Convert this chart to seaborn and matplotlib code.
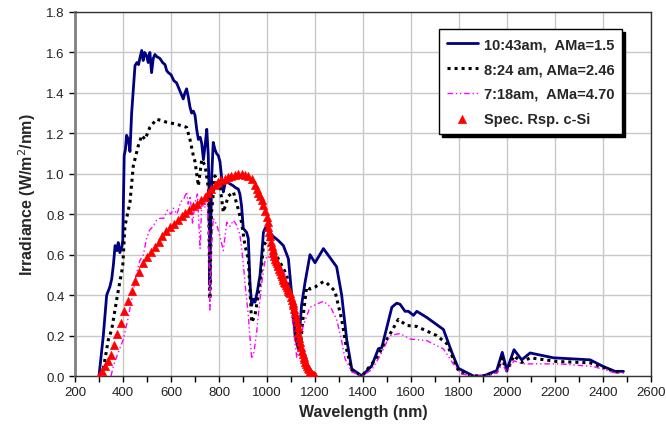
import matplotlib
matplotlib.use("Agg")
import matplotlib.pyplot as plt
from matplotlib.ticker import MultipleLocator, FormatStrFormatter
import seaborn as sns

# 10:43am, AMa=1.5
wl_noon = [300, 318, 332, 345, 353, 360, 367, 375, 380, 387, 395, 399, 405, 410, 415, 422, 429, 436,
           443, 450, 458, 465, 470, 478, 484, 490, 498, 505, 512, 519, 526, 533, 540, 554, 565, 575,
           582, 589, 600, 612, 623, 630, 637, 644, 651, 658, 665, 672, 679, 686, 693, 700, 707, 714,
           722, 728, 735, 742, 749, 755, 758, 762, 765, 770, 776, 783, 790, 797, 804, 811, 818, 825,
           832, 846, 860, 870, 880, 887, 894, 901, 908, 915, 922, 929, 936, 943, 950, 960, 971, 978,
           985, 992, 999, 1012, 1026, 1047, 1068, 1089, 1103, 1117, 1130, 1144, 1158, 1179, 1200,
           1235, 1290, 1311, 1332, 1353, 1395, 1436, 1464, 1478, 1520, 1540, 1554, 1575, 1589, 1610,
           1624, 1665, 1735, 1770, 1797, 1860, 1901, 1957, 1980, 1999, 2029, 2061, 2096, 2193, 2346,
           2401, 2450, 2485]
irr_noon = [0.0, 0.2, 0.40, 0.44, 0.48, 0.55, 0.645, 0.62, 0.66, 0.61, 0.64, 0.67, 1.09, 1.12, 1.19,
            1.17, 1.11, 1.30, 1.42, 1.535, 1.55, 1.54, 1.57, 1.61, 1.56, 1.60, 1.585, 1.55, 1.60, 1.50,
            1.57, 1.59, 1.58, 1.57, 1.55, 1.54, 1.51, 1.50, 1.49, 1.46, 1.45, 1.43, 1.41, 1.39, 1.37,
            1.40, 1.42, 1.38, 1.33, 1.30, 1.31, 1.29, 1.22, 1.17, 1.18, 1.15, 1.07, 1.14, 1.22, 1.10,
            0.95, 0.45, 0.72, 1.0, 1.155, 1.12, 1.10, 1.09, 1.06, 0.98, 0.91, 0.95, 0.96, 0.95, 0.94,
            0.93, 0.925, 0.90, 0.84, 0.73, 0.72, 0.71, 0.68, 0.46, 0.35, 0.38, 0.365, 0.42, 0.50, 0.60,
            0.71, 0.73, 0.73, 0.71, 0.69, 0.67, 0.645, 0.58, 0.40, 0.20, 0.135, 0.35, 0.46, 0.60, 0.56,
            0.63, 0.54, 0.40, 0.18, 0.035, 0.0, 0.05, 0.135, 0.14, 0.34, 0.36, 0.355, 0.32, 0.32, 0.30,
            0.32, 0.29, 0.23, 0.117, 0.038, 0.0, 0.0, 0.027, 0.117, 0.03, 0.13, 0.08, 0.114, 0.09, 0.08,
            0.047, 0.023, 0.023]

# 8:24 am, AMa=2.46
wl_morning = [318, 339, 353, 374, 399, 408, 415, 429, 443, 464, 478, 492, 512, 540, 582, 623, 665,
              679, 693, 700, 714, 728, 742, 756, 762, 768, 783, 804, 818, 839, 860, 880, 894, 908,
              922, 936, 950, 971, 985, 1006, 1040, 1082, 1103, 1124, 1138, 1151, 1165, 1179, 1200,
              1235, 1249, 1283, 1311, 1332, 1353, 1395, 1457, 1499, 1547, 1582, 1624, 1707, 1749,
              1776, 1800, 1860, 1901, 1957, 1980, 1999, 2029, 2061, 2096, 2207, 2346, 2401, 2450, 2485]
irr_morning = [0.035, 0.18, 0.23, 0.38, 0.545, 0.74, 0.78, 0.86, 1.04, 1.14, 1.19, 1.17, 1.23, 1.27,
               1.255, 1.245, 1.23, 1.17, 1.09, 1.06, 0.94, 1.07, 1.04, 0.925, 0.38, 0.80, 0.99, 0.94,
               0.81, 0.89, 0.91, 0.825, 0.76, 0.645, 0.58, 0.265, 0.30, 0.46, 0.645, 0.68, 0.595,
               0.50, 0.35, 0.165, 0.13, 0.30, 0.44, 0.43, 0.44, 0.467, 0.46, 0.42, 0.28, 0.13, 0.03,
               0.0, 0.09, 0.18, 0.28, 0.25, 0.245, 0.20, 0.16, 0.085, 0.02, 0.0, 0.0, 0.02, 0.09,
               0.025, 0.10, 0.067, 0.09, 0.072, 0.065, 0.043, 0.02, 0.02]

# 7:18am, AMa=4.70
wl_early = [350, 360, 375, 401, 420, 440, 457, 470, 485, 498, 510, 525, 540, 554, 570, 585, 600, 610,
            625, 640, 655, 665, 672, 680, 690, 700, 710, 721, 728, 740, 750, 757, 762, 767, 776, 790,
            804, 818, 832, 846, 860, 874, 887, 894, 901, 908, 922, 936, 946, 957, 968, 978, 990, 999,
            1026, 1054, 1075, 1089, 1110, 1124, 1138, 1151, 1179, 1235, 1265, 1290, 1310, 1325, 1353,
            1395, 1436, 1471, 1512, 1554, 1596, 1665, 1735, 1776, 1810, 1860, 1900, 1957, 1980, 1999,
            2029, 2068, 2221, 2360, 2450, 2485]
irr_early = [0.0, 0.05, 0.1, 0.18, 0.28, 0.40, 0.51, 0.57, 0.60, 0.68, 0.72, 0.74, 0.77, 0.78, 0.78,
             0.82, 0.80, 0.83, 0.80, 0.86, 0.88, 0.91, 0.85, 0.89, 0.75, 0.86, 0.90, 0.63, 0.85, 0.83,
             0.88, 0.70, 0.32, 0.60, 0.78, 0.75, 0.69, 0.62, 0.76, 0.74, 0.77, 0.745, 0.70, 0.63, 0.56,
             0.46, 0.30, 0.085, 0.12, 0.22, 0.35, 0.46, 0.56, 0.595, 0.57, 0.545, 0.50, 0.46, 0.23,
             0.09, 0.18, 0.25, 0.34, 0.37, 0.34, 0.28, 0.18, 0.085, 0.02, 0.0, 0.03, 0.10, 0.20, 0.21,
             0.183, 0.175, 0.134, 0.06, 0.01, 0.0, 0.0, 0.015, 0.06, 0.02, 0.075, 0.06, 0.06, 0.047,
             0.015, 0.015]

# Spec. Rsp. c-Si
wl_csi = [300, 312, 324, 336, 348, 362, 376, 390, 405, 420, 436, 452, 468, 484, 500, 516, 532, 548,
          564, 580, 596, 612, 628, 644, 660, 676, 692, 708, 724, 740, 754, 768, 782, 796, 810, 824,
          838, 852, 866, 880, 894, 908, 922, 936, 950, 957, 964, 971, 978, 985, 992, 999, 1003, 1006,
          1010, 1013, 1016, 1019, 1023, 1026, 1030, 1033, 1037, 1040, 1044, 1047, 1051, 1054, 1058,
          1061, 1065, 1068, 1072, 1075, 1079, 1082, 1086, 1089, 1093, 1096, 1100, 1103, 1107, 1110,
          1114, 1117, 1121, 1124, 1128, 1131, 1135, 1138, 1142, 1145, 1149, 1152, 1156, 1159, 1163,
          1166, 1170, 1173, 1177, 1180, 1184, 1187, 1191, 1194, 1198, 1200]
rsp_csi = [0.0, 0.025, 0.05, 0.075, 0.105, 0.155, 0.21, 0.26, 0.32, 0.37, 0.42, 0.47, 0.515, 0.56,
           0.59, 0.615, 0.64, 0.665, 0.69, 0.715, 0.735, 0.75, 0.77, 0.79, 0.805, 0.82, 0.84, 0.85,
           0.87, 0.885, 0.905, 0.925, 0.945, 0.96, 0.97, 0.975, 0.985, 0.99, 0.995, 1.0, 1.0, 0.995,
           0.99, 0.975, 0.945, 0.925, 0.905, 0.89, 0.87, 0.845, 0.815, 0.785, 0.76, 0.735, 0.71, 0.69,
           0.665, 0.645, 0.625, 0.61, 0.595, 0.58, 0.57, 0.56, 0.55, 0.545, 0.53, 0.52, 0.505, 0.495,
           0.485, 0.475, 0.465, 0.46, 0.45, 0.44, 0.43, 0.42, 0.415, 0.41, 0.39, 0.375, 0.36, 0.35,
           0.33, 0.31, 0.29, 0.265, 0.24, 0.215, 0.19, 0.166, 0.145, 0.125, 0.11, 0.095, 0.085, 0.07,
           0.06, 0.05, 0.04, 0.033, 0.027, 0.02, 0.014, 0.01, 0.006, 0.003, 0.001, 0.0]

sns.set_style("whitegrid")
plt.rcParams['font.family'] = ['Liberation Sans', 'DejaVu Sans']

fig = plt.figure(figsize=(6.66, 4.39), dpi=100)
ax = fig.add_axes([0.1126, 0.1412, 0.865, 0.8292])

sns.lineplot(x=wl_noon, y=irr_noon, ax=ax, color='#000080', lw=2, estimator=None,
             label='10:43am,  AMa=1.5')
sns.lineplot(x=wl_morning, y=irr_morning, ax=ax, color='black', lw=2.2, estimator=None,
             linestyle=(0, (1, 1.3)), label='8:24 am, AMa=2.46')
sns.lineplot(x=wl_early, y=irr_early, ax=ax, color='#ff00ff', lw=1, estimator=None,
             linestyle=(0, (4, 2, 1, 2, 1, 2)), label='7:18am,  AMa=4.70')
sns.scatterplot(x=wl_csi, y=rsp_csi, ax=ax, marker='^', s=34, color='red', edgecolor='red',
                linewidth=0.5, zorder=4, label='Spec. Rsp. c-Si')

ax.set_xlim(200, 2600)
ax.set_ylim(0, 1.8)
ax.xaxis.set_major_locator(MultipleLocator(200))
ax.xaxis.set_minor_locator(MultipleLocator(100))
ax.yaxis.set_major_locator(MultipleLocator(0.2))
ax.yaxis.set_major_formatter(FormatStrFormatter('%.1f'))
ax.grid(True, which='major', color='#c8c8c8', lw=1)
ax.tick_params(axis='both', which='both', direction='out', length=4, width=1, color='black',
               labelsize=9.5, labelcolor='#222222', bottom=True, left=True)

for side in ['top', 'right', 'bottom']:
    ax.spines[side].set_color('#333333')
    ax.spines[side].set_linewidth(1)
ax.spines['left'].set_color('#808080')
ax.spines['left'].set_linewidth(2)

ax.set_xlabel('Wavelength (nm)', fontsize=11.5, fontweight='bold', labelpad=4)
ax.set_ylabel('Irradiance (W/m$^2$/nm)', fontsize=11.5, fontweight='bold', labelpad=6)

# boxed legend with a hard black drop shadow
leg = ax.legend(loc='upper right', bbox_to_anchor=(0.95, 0.953), borderaxespad=0,
                frameon=True, fancybox=False,
                shadow={'color': 'black', 'alpha': 1}, edgecolor='black', framealpha=1,
                prop={'weight': 'bold', 'size': 10.5}, handlelength=2.1, labelspacing=0.75,
                borderpad=0.55, handletextpad=0.4)
leg.get_frame().set_linewidth(1)

fig.savefig('out.png', dpi=100)
